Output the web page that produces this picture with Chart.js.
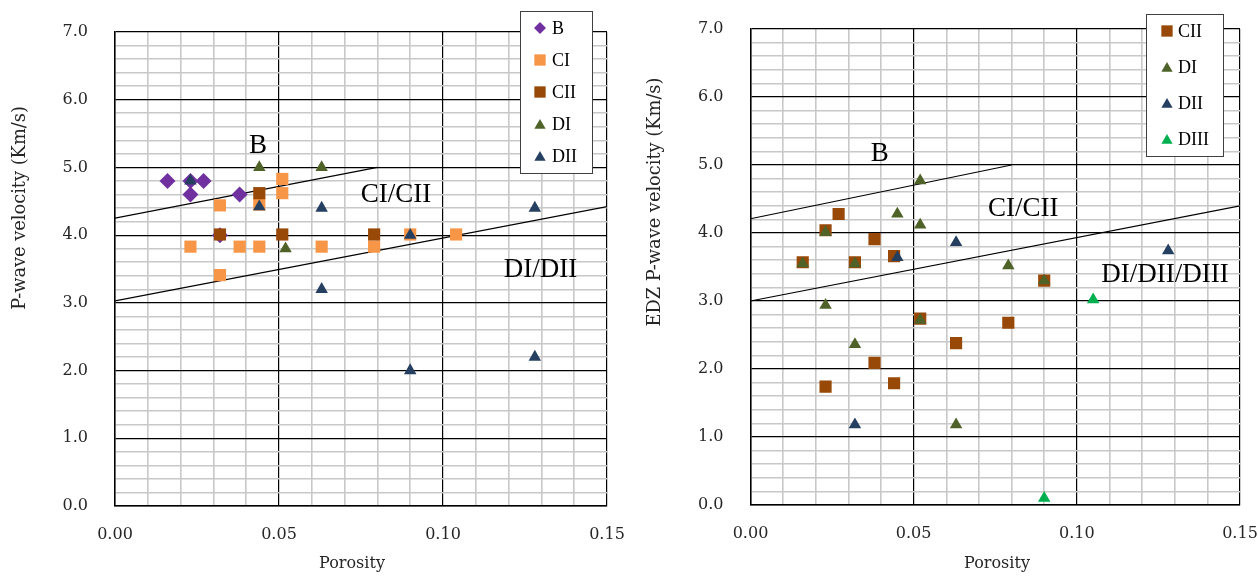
<!DOCTYPE html>
<html lang="en">
<head>
<meta charset="UTF-8">
<title>Porosity vs P-wave velocity</title>
<script src="https://cdn.jsdelivr.net/npm/chart.js"></script>
<style>
    body { margin: 0; background: #fff; }
    .panel { position: absolute; top: 0; width: 629px; height: 577px; }
    #leftPanel { left: 0; }
    #rightPanel { left: 629px; }
</style>
</head>
<body>
<div id="leftPanel" class="panel"><canvas id="leftChart" width="629" height="577"></canvas></div>
<div id="rightPanel" class="panel"><canvas id="rightChart" width="629" height="577"></canvas></div>

<script>
    // ---- data: [porosity, velocity] ----
    // left chart (P-wave velocity)
    const leftB   = [[0.016, 4.8], [0.023, 4.8], [0.027, 4.8], [0.023, 4.6], [0.038, 4.6], [0.032, 4.0]];
    const leftCI  = [[0.023, 3.83], [0.032, 4.44], [0.032, 3.41], [0.038, 3.83], [0.044, 3.83], [0.044, 4.45],
                     [0.051, 4.83], [0.051, 4.62], [0.063, 3.83], [0.079, 3.83], [0.090, 4.01], [0.104, 4.01]];
    const leftCII = [[0.044, 4.62], [0.032, 4.01], [0.051, 4.01], [0.079, 4.01]];
    const leftDI  = [[0.044, 5.0], [0.063, 5.0], [0.052, 3.8]];
    const leftDII = [[0.023, 4.8], [0.044, 4.42], [0.063, 4.4], [0.063, 3.2], [0.090, 4.0], [0.128, 4.4],
                     [0.090, 2.0], [0.128, 2.2]];

    // right chart (EDZ P-wave velocity)
    const rightCII  = [[0.016, 3.57], [0.023, 4.04], [0.027, 4.28], [0.032, 3.57], [0.038, 3.91], [0.044, 3.66],
                       [0.052, 2.74], [0.063, 2.38], [0.079, 2.68], [0.090, 3.3], [0.038, 2.09], [0.023, 1.74],
                       [0.044, 1.79]];
    const rightDI   = [[0.052, 4.77], [0.045, 4.28], [0.023, 4.01], [0.052, 4.12], [0.016, 3.55], [0.032, 3.55],
                       [0.079, 3.52], [0.023, 2.94], [0.052, 2.72], [0.032, 2.36], [0.063, 1.18], [0.090, 3.3]];
    const rightDII  = [[0.063, 3.86], [0.045, 3.64], [0.032, 1.18], [0.128, 3.74]];
    const rightDIII = [[0.105, 3.02], [0.090, 0.10]];

    // class boundary lines
    const leftUpper  = [[0, 4.25], [0.08, 5.0]];
    const leftLower  = [[0, 3.03], [0.15, 4.42]];
    const rightUpper = [[0, 4.21], [0.08, 5.0]];
    const rightLower = [[0, 3.0], [0.15, 4.4]];

    // region labels [text, porosity, velocity]
    const leftRegions  = [['B', 0.0436, 5.32], ['CI/CII', 0.0857, 4.59], ['DI/DII', 0.1297, 3.49]];
    const rightRegions = [['B', 0.0396, 5.17], ['CI/CII', 0.0836, 4.36], ['DI/DII/DIII', 0.127, 3.38]];

    const xTicks = { min: 0, max: 0.15, step: 0.01, major: 0.05 };
    const yTicks = { min: 0, max: 7, step: 0.2, major: 1 };

    // series styles
    const styles = {
        B:    { color: '#7030A0', shape: 'rectRot', r: 8 },
        CI:   { color: '#F79646', shape: 'rect', r: 8.6 },
        CII:  { color: '#984807', shape: 'rect', r: 8.6 },
        DI:   { color: '#4F6228', shape: 'triangle', r: 7.2 },
        DII:  { color: '#243F60', shape: 'triangle', r: 7.2 },
        DIII: { color: '#00B050', shape: 'triangle', r: 7.2 }
    };

    Chart.defaults.font.family = "'DejaVu Serif', serif";
    Chart.defaults.color = '#262626';

    const toXY = arr => arr.map(p => ({ x: p[0], y: p[1] }));
    const isMajor = (v, m) => Math.abs(v / m - Math.round(v / m)) < 1e-6;

    function pointSet(label, arr, idx, total) {
        const s = styles[label];
        return {
            label: label,
            data: toXY(arr),
            pointStyle: s.shape,
            pointRadius: s.r,
            pointHoverRadius: s.r,
            backgroundColor: s.color,
            borderColor: s.color,
            borderWidth: 0,
            order: total - idx   // later series drawn on top, like the original
        };
    }

    function lineSet(arr) {
        return {
            label: '_line',
            data: toXY(arr),
            showLine: true,
            borderColor: '#000',
            borderWidth: 1.2,
            pointRadius: 0,
            order: 100
        };
    }

    // legend box + region labels + axis titles
    const decorPlugin = {
        id: 'decor',
        afterDraw(chart, args, opts) {
            const ctx = chart.ctx;
            const xs = chart.scales.x, ys = chart.scales.y;
            ctx.save();

            // region labels
            ctx.fillStyle = '#000';
            ctx.font = "27px 'Liberation Serif'";
            ctx.textAlign = 'center';
            ctx.textBaseline = 'middle';
            opts.regions.forEach(r => {
                ctx.fillText(r[0], xs.getPixelForValue(r[1]), ys.getPixelForValue(r[2]));
            });

            // axis titles
            ctx.fillStyle = '#262626';
            ctx.font = "16px 'DejaVu Serif'";
            ctx.fillText('Porosity', opts.xTitle[0], opts.xTitle[1]);
            ctx.font = "17.8px 'DejaVu Serif'";
            ctx.save();
            ctx.translate(opts.yTitle[0], opts.yTitle[1]);
            ctx.rotate(-Math.PI / 2);
            ctx.fillText(opts.yTitleText, 0, 0);
            ctx.restore();

            // legend
            const L = opts.legend;
            ctx.fillStyle = '#fff';
            ctx.fillRect(L.x, L.y, L.w, L.h);
            ctx.strokeStyle = '#404040';
            ctx.lineWidth = 1;
            ctx.strokeRect(L.x + 0.5, L.y + 0.5, L.w, L.h);
            ctx.font = "18px 'Liberation Serif'";
            ctx.textAlign = 'left';
            L.items.forEach((name, i) => {
                const s = styles[name];
                const y = L.y0 + i * L.gap;
                ctx.fillStyle = s.color;
                ctx.strokeStyle = s.color;
                Chart.helpers.drawPoint(ctx, {
                    pointStyle: s.shape,
                    radius: s.shape === 'rect' ? 8 : (s.shape === 'rectRot' ? 6 : 6.5),
                    rotation: 0,
                    borderWidth: 0
                }, L.mx, y + (s.shape === 'triangle' ? 1.5 : 0));
                ctx.fillStyle = '#000';
                ctx.fillText(name, L.tx, y + 1);
            });
            ctx.restore();
        }
    };

    function makeScales(axisW, axisH) {
        const gridColor = m => c => (c.tick && isMajor(c.tick.value, m)) ? '#000' : '#c8c8c8';
        const gridWidth = m => c => (c.tick && isMajor(c.tick.value, m)) ? 1.2 : 1.6;
        return {
            x: {
                type: 'linear',
                min: xTicks.min, max: xTicks.max,
                border: { color: '#000', width: 1.5 },
                grid: { color: gridColor(xTicks.major), lineWidth: gridWidth(xTicks.major), drawTicks: false },
                ticks: {
                    stepSize: xTicks.step, maxTicksLimit: 100, autoSkip: false, maxRotation: 0,
                    padding: 19, font: { size: 16 },
                    callback: v => isMajor(v, xTicks.major) ? v.toFixed(2) : ''
                },
                // fixed axis height, no label overflow padding
                afterFit: s => { s.height = axisH; s.paddingLeft = 0; s.paddingRight = 0; }
            },
            y: {
                type: 'linear',
                min: yTicks.min, max: yTicks.max,
                border: { color: '#000', width: 1.5 },
                grid: { color: gridColor(yTicks.major), lineWidth: gridWidth(yTicks.major), drawTicks: false },
                ticks: {
                    stepSize: yTicks.step, maxTicksLimit: 100, autoSkip: false,
                    padding: 27, font: { size: 16 },
                    callback: v => isMajor(v, yTicks.major) ? v.toFixed(1) : ''
                },
                afterFit: s => { s.width = axisW; s.paddingTop = 0; s.paddingBottom = 0; }
            }
        };
    }

    function baseOptions(pad, axisW, axisH, decor) {
        return {
            responsive: false,
            animation: false,
            layout: { padding: pad },
            scales: makeScales(axisW, axisH),
            plugins: { legend: { display: false }, tooltip: { enabled: false }, decor: decor }
        };
    }

    // left chart
    const leftNames = ['B', 'CI', 'CII', 'DI', 'DII'];
    const leftData = [leftB, leftCI, leftCII, leftDI, leftDII];
    new Chart(document.getElementById('leftChart'), {
        type: 'scatter',
        data: {
            datasets: leftNames.map((n, i) => pointSet(n, leftData[i], i, leftNames.length))
                .concat([lineSet(leftUpper), lineSet(leftLower)])
        },
        options: baseOptions({ top: 32, right: 22, left: 0, bottom: 0 }, 115, 71, {
            regions: leftRegions,
            xTitle: [352, 564],
            yTitle: [20, 208],
            yTitleText: 'P-wave velocity (Km/s)',
            legend: { x: 520, y: 11, w: 72, h: 162, items: leftNames, y0: 28, gap: 32, mx: 540, tx: 552 }
        }),
        plugins: [decorPlugin]
    });

    // right chart
    const rightNames = ['CII', 'DI', 'DII', 'DIII'];
    const rightData = [rightCII, rightDI, rightDII, rightDIII];
    new Chart(document.getElementById('rightChart'), {
        type: 'scatter',
        data: {
            datasets: rightNames.map((n, i) => pointSet(n, rightData[i], i, rightNames.length))
                .concat([lineSet(rightUpper), lineSet(rightLower)])
        },
        options: baseOptions({ top: 29, right: 18, left: 0, bottom: 0 }, 121.5, 72, {
            regions: rightRegions,
            xTitle: [368, 564],
            yTitle: [26, 202],
            yTitleText: 'EDZ P-wave velocity (Km/s)',
            legend: { x: 517, y: 14, w: 77, h: 142, items: rightNames, y0: 31, gap: 36, mx: 538, tx: 549 }
        }),
        plugins: [decorPlugin]
    });
</script>
</body>
</html>
